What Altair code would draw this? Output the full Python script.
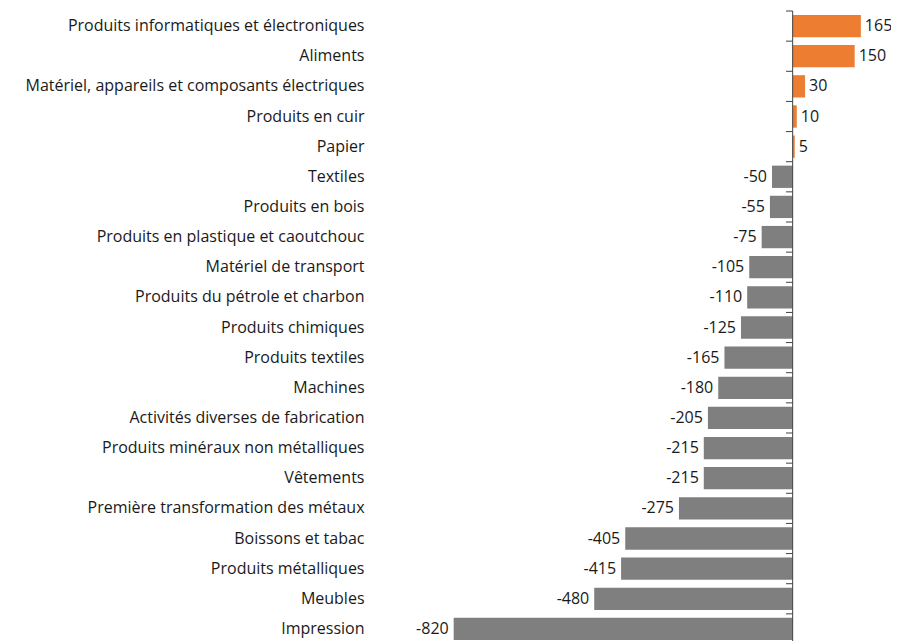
import altair as alt
import pandas as pd

categories = [
    "Produits informatiques et électroniques",
    "Aliments",
    "Matériel, appareils et composants électriques",
    "Produits en cuir",
    "Papier",
    "Textiles",
    "Produits en bois",
    "Produits en plastique et caoutchouc",
    "Matériel de transport",
    "Produits du pétrole et charbon",
    "Produits chimiques",
    "Produits textiles",
    "Machines",
    "Activités diverses de fabrication",
    "Produits minéraux non métalliques",
    "Vêtements",
    "Première transformation des métaux",
    "Boissons et tabac",
    "Produits métalliques",
    "Meubles",
    "Impression",
]
values = [165, 150, 30, 10, 5, -50, -55, -75, -105, -110, -125, -165, -180,
          -205, -215, -215, -275, -405, -415, -480, -820]

df = pd.DataFrame({"cat": categories, "val": values})
df["sign"] = ["pos" if v >= 0 else "neg" for v in values]
df["lbl"] = [str(v) for v in values]

FONT = "Open Sans"
FS = 16
TXT = "#1a1a1a"

xscale = alt.Scale(domain=[-1020, 175], nice=False, zero=False)
yscale = alt.Scale(domain=categories, paddingInner=0.26, paddingOuter=0.13)

base = alt.Chart(df)

bars = base.mark_bar().encode(
    x=alt.X("val:Q", scale=xscale, axis=None),
    y=alt.Y("cat:N", scale=yscale, sort=categories,
            axis=alt.Axis(title=None, ticks=False, domain=False, labelPadding=7,
                          labelFont=FONT, labelFontSize=FS, labelColor=TXT,
                          labelLimit=500)),
    color=alt.Color("sign:N", scale=alt.Scale(domain=["pos", "neg"],
                                              range=["#ED7D31", "#7F7F7F"]),
                    legend=None),
)

pos_lbl = base.transform_filter("datum.val >= 0").mark_text(
    align="left", baseline="middle", dx=4, font=FONT, fontSize=FS, color=TXT
).encode(x="val:Q", y=alt.Y("cat:N", sort=categories), text="lbl:N")

neg_lbl = base.transform_filter("datum.val < 0").mark_text(
    align="right", baseline="middle", dx=-5, font=FONT, fontSize=FS, color=TXT
).encode(x="val:Q", y=alt.Y("cat:N", sort=categories), text="lbl:N")

zero_line = alt.Chart(pd.DataFrame({"z": [0]})).mark_rule(
    color="#404040", strokeWidth=1
).encode(x=alt.X("z:Q"))

main = alt.layer(bars, pos_lbl, neg_lbl, zero_line)

ticks = base.mark_rule(color="#404040", strokeWidth=1).encode(
    y=alt.Y("cat:N", sort=categories, bandPosition=0,
            scale=alt.Scale(domain=categories, paddingInner=0, paddingOuter=0),
            axis=None),
    x=alt.datum(0, scale=xscale),
    x2=alt.datum(-16),
)

chart = alt.layer(main, ticks).resolve_scale(y="independent").properties(
    width=494,
    height=633,
    autosize=alt.AutoSizeParams(type="none"),
    padding={"left": 363, "top": 3, "right": 26, "bottom": 0},
).configure_view(stroke=None)

chart.save("out.html", embed_options={"renderer": "svg", "actions": False})
